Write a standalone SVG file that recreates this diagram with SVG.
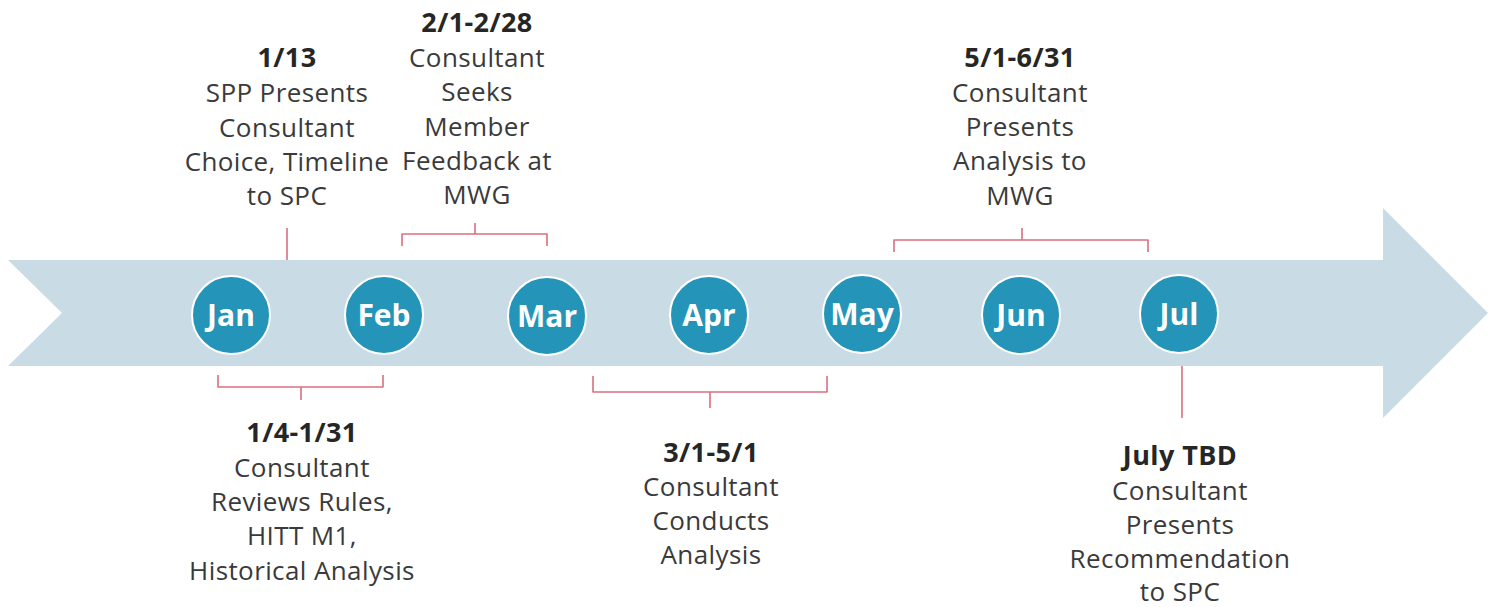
<svg xmlns="http://www.w3.org/2000/svg" width="1497" height="607" viewBox="0 0 1497 607">
  <style>
    .band { fill: #c9dce5; }
    .month circle { fill: #2495b8; stroke: #ffffff; stroke-width: 2; }
    .month text { font-family: "Open Sans", "Noto Sans", sans-serif; font-weight: 700; font-size: 30px; fill: #ffffff; text-anchor: middle; }
    .brace { fill: none; stroke: #d9707f; stroke-width: 1.6; stroke-linejoin: round; }
    .label text { font-family: "Open Sans", "Noto Sans", sans-serif; font-size: 26px; letter-spacing: 0.4px; fill: #3a3a3a; text-anchor: middle; }
    .label .head { font-weight: 700; font-size: 27px; fill: #262626; }
  </style>

  <!-- timeline arrow -->
  <path id="timeline" class="band" d="M8,260 L1383,260 L1383,208 L1488,313 L1383,418 L1383,366 L8,366 L62,313 Z"/>

  <!-- brackets and leader lines -->
  <g id="connectors">
    <path class="brace" d="M287,228 L287,260"/>
    <path class="brace" d="M402,246 L402,234 L475,234 L475,223 M475,234 L547,234 L547,246"/>
    <path class="brace" d="M894,252 L894,240 L1022,240 L1022,228 M1022,240 L1148,240 L1148,252"/>
    <path class="brace" d="M218,375 L218,387 L301,387 L301,400 M301,387 L383,387 L383,375"/>
    <path class="brace" d="M593,376 L593,392 L710,392 L710,408 M710,392 L827,392 L827,376"/>
    <path class="brace" d="M1182,366 L1182,418"/>
  </g>

  <!-- month markers -->
  <g id="jan" class="month"><circle cx="231" cy="315" r="39"/><text x="231" y="326">Jan</text></g>
  <g id="feb" class="month"><circle cx="384" cy="315" r="39"/><text x="384" y="326">Feb</text></g>
  <g id="mar" class="month"><circle cx="547" cy="316" r="39"/><text x="547" y="327">Mar</text></g>
  <g id="apr" class="month"><circle cx="709" cy="315" r="39"/><text x="709" y="326">Apr</text></g>
  <g id="may" class="month"><circle cx="862" cy="314" r="39"/><text x="862" y="325">May</text></g>
  <g id="jun" class="month"><circle cx="1021" cy="315" r="39"/><text x="1021" y="326">Jun</text></g>
  <g id="jul" class="month"><circle cx="1179" cy="314" r="39"/><text x="1179" y="325">Jul</text></g>

  <!-- milestone labels -->
  <g id="label-0113" class="label">
    <text class="head" x="287" y="67">1/13</text>
    <text x="287" y="102">SPP Presents</text>
    <text x="287" y="137">Consultant</text>
    <text x="287" y="171">Choice, Timeline</text>
    <text x="287" y="205">to SPC</text>
  </g>
  <g id="label-0201" class="label">
    <text class="head" x="477" y="32">2/1-2/28</text>
    <text x="477" y="67">Consultant</text>
    <text x="477" y="101">Seeks</text>
    <text x="477" y="136">Member</text>
    <text x="477" y="170">Feedback at</text>
    <text x="477" y="204">MWG</text>
  </g>
  <g id="label-0501" class="label">
    <text class="head" x="1020" y="67">5/1-6/31</text>
    <text x="1020" y="102">Consultant</text>
    <text x="1020" y="136">Presents</text>
    <text x="1020" y="170">Analysis to</text>
    <text x="1020" y="205">MWG</text>
  </g>
  <g id="label-0104" class="label">
    <text class="head" x="302" y="442">1/4-1/31</text>
    <text x="302" y="477">Consultant</text>
    <text x="302" y="511">Reviews Rules,</text>
    <text x="302" y="545">HITT M1,</text>
    <text x="302" y="580">Historical Analysis</text>
  </g>
  <g id="label-0301" class="label">
    <text class="head" x="711" y="462">3/1-5/1</text>
    <text x="711" y="496">Consultant</text>
    <text x="711" y="530">Conducts</text>
    <text x="711" y="564">Analysis</text>
  </g>
  <g id="label-july" class="label">
    <text class="head" x="1180" y="465">July TBD</text>
    <text x="1180" y="500">Consultant</text>
    <text x="1180" y="534">Presents</text>
    <text x="1180" y="568">Recommendation</text>
    <text x="1180" y="601">to SPC</text>
  </g>
</svg>
